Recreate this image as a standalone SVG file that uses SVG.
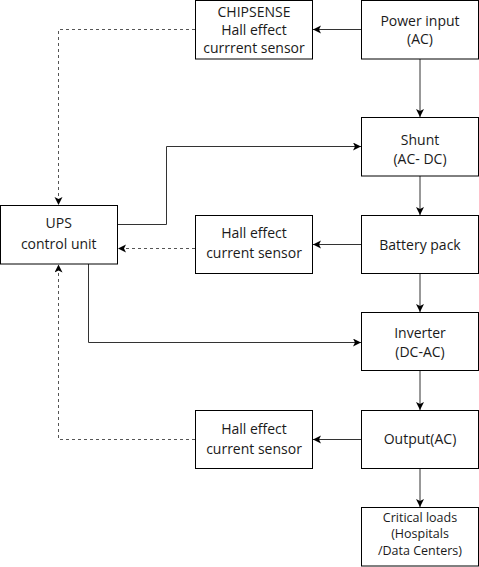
<svg xmlns="http://www.w3.org/2000/svg" width="479" height="567" viewBox="0 0 479 567">
<style>
.box{fill:#fff;stroke:#000;stroke-width:1}
text{font-family:"Open Sans","Noto Sans","DejaVu Sans",sans-serif;font-size:14px;fill:#1a1a1a;text-anchor:middle}
.small{font-size:12.5px}
.ln{fill:none;stroke:#333;stroke-width:1}
.dash{fill:none;stroke:#555;stroke-width:1;stroke-dasharray:3,3}
</style>
<defs>
<marker id="ah" markerUnits="userSpaceOnUse" markerWidth="10" markerHeight="10" refX="8" refY="4" orient="auto">
<path d="M0,0 L8,4 L0,8 L2,4 z" fill="#000"/>
</marker>
</defs>
<rect width="479" height="567" fill="#fff"/>
<g id="connectors">
<path class="ln" d="M361,29.5 L313,29.5" marker-end="url(#ah)"/>
<path class="dash" d="M195,29.5 L58.5,29.5 L58.5,205" marker-end="url(#ah)"/>
<path class="ln" d="M420,59 L420,117" marker-end="url(#ah)"/>
<path class="ln" d="M117.5,224.5 L166.5,224.5 L166.5,146.5 L361,146.5" marker-end="url(#ah)"/>
<path class="ln" d="M420,176 L420,215" marker-end="url(#ah)"/>
<path class="ln" d="M361,244.5 L313,244.5" marker-end="url(#ah)"/>
<path class="dash" d="M195,248.5 L118,248.5" marker-end="url(#ah)"/>
<path class="ln" d="M420,273.5 L420,312" marker-end="url(#ah)"/>
<path class="ln" d="M88.5,264 L88.5,342.5 L361,342.5" marker-end="url(#ah)"/>
<path class="ln" d="M420,370.5 L420,410" marker-end="url(#ah)"/>
<path class="ln" d="M361,439.5 L313,439.5" marker-end="url(#ah)"/>
<path class="dash" d="M195,439.5 L58.5,439.5 L58.5,264.5" marker-end="url(#ah)"/>
<path class="ln" d="M420,468.5 L420,507" marker-end="url(#ah)"/>
</g>
<g id="chipsense">
<rect class="box" x="195.5" y="0.5" width="117" height="58.5"/>
<text x="254" y="17">CHIPSENSE</text>
<text x="254" y="35">Hall effect</text>
<text x="254" y="53">currrent sensor</text>
</g>
<g id="power">
<rect class="box" x="361.5" y="0.5" width="117" height="58.5"/>
<text x="420" y="25.5">Power input</text>
<text x="420" y="44">(AC)</text>
</g>
<g id="shunt">
<rect class="box" x="361.5" y="117.5" width="117" height="58.5"/>
<text x="420" y="145">Shunt</text>
<text x="420" y="164">(AC- DC)</text>
</g>
<g id="ups">
<rect class="box" x="0.5" y="205.5" width="117" height="58.5"/>
<text x="58.75" y="228">UPS</text>
<text x="58.75" y="249">control unit</text>
</g>
<g id="hall2">
<rect class="box" x="195.5" y="215.5" width="117" height="58"/>
<text x="254" y="238">Hall effect</text>
<text x="254" y="258">current sensor</text>
</g>
<g id="battery">
<rect class="box" x="361.5" y="215.5" width="117" height="58"/>
<text x="420" y="250">Battery pack</text>
</g>
<g id="inverter">
<rect class="box" x="361.5" y="312.5" width="117" height="58"/>
<text x="420" y="338">Inverter</text>
<text x="420" y="357">(DC-AC)</text>
</g>
<g id="hall3">
<rect class="box" x="195.5" y="410.5" width="117" height="58"/>
<text x="254" y="433.5">Hall effect</text>
<text x="254" y="453.5">current sensor</text>
</g>
<g id="output">
<rect class="box" x="361.5" y="410.5" width="117" height="58"/>
<text x="420" y="443.5">Output(AC)</text>
</g>
<g id="critical">
<rect class="box" x="361.5" y="507.5" width="117" height="58.5"/>
<text class="small" x="420" y="521.5">Critical loads</text>
<text class="small" x="420" y="538">(Hospitals</text>
<text class="small" x="420" y="554.5">/Data Centers)</text>
</g>
</svg>
